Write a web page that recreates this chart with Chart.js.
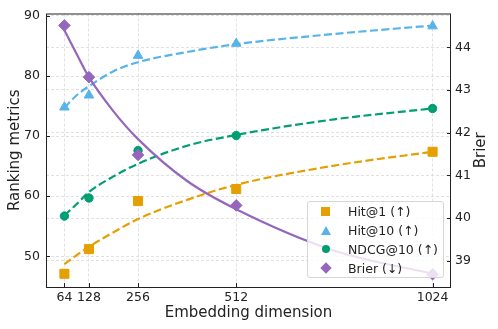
<!DOCTYPE html>
<html>
<head>
<meta charset="utf-8">
<script src="https://cdn.jsdelivr.net/npm/chart.js@4/dist/chart.umd.min.js"></script>
<style>
  body { margin: 0; background: #fff; }
  #wrap { position: relative; width: 498px; height: 329px; }
  #legend {
    position: absolute; left: 307px; top: 201px; width: 137px; height: 77px;
    box-sizing: border-box; border: 1px solid #d6d6d6; border-radius: 3px;
    background: rgba(255, 255, 255, 0.8);
    font: 12.5px "DejaVu Sans", sans-serif; color: #222;
  }
  .row { position: absolute; left: 0; height: 19px; line-height: 19px; }
  .row span.t { position: absolute; left: 40px; white-space: nowrap; }
  .mk { position: absolute; }
</style>
</head>
<body>
<div id="wrap">
  <canvas id="myChart" width="498" height="329"></canvas>
  <div id="legend"></div>
</div>
<script>
// measured points
const dims = [64, 128, 256, 512, 1024];
const hit1 = [47.1, 51.2, 59.2, 61.2, 67.4];
const hit10 = [74.8, 76.8, 83.4, 85.4, 88.3];
const ndcg10 = [56.7, 59.7, 67.6, 70.1, 74.6];
const brier = [44.51, 43.30, 41.48, 40.30, 38.69];

// fitted curves
const fitDims = [64, 96, 128, 192, 256, 384, 512, 768, 1024];
const hit1Fit = [48.7, 50.2, 51.6, 54.0, 56.2, 59.4, 61.9, 65.1, 67.4];
const hit10Fit = [74.7, 76.8, 78.3, 80.8, 82.3, 84.0, 85.3, 87.0, 88.4];
const ndcg10Fit = [56.8, 58.7, 60.7, 63.3, 65.4, 68.4, 70.2, 72.8, 74.6];
const brierFit = [44.40, 43.84, 43.30, 42.50, 41.85, 40.87, 40.21, 39.24, 38.70];

const xTicks = [64, 128, 256, 512, 1024];
const leftTicks = [50, 60, 70, 80, 90];
const rightTicks = [39, 40, 41, 42, 43, 44];

const labels = ['Hit@1 (↑)', 'Hit@10 (↑)', 'NDCG@10 (↑)', 'Brier (↓)'];
const colors = ['#E69F00', '#56B4E9', '#009E73', '#9467BD'];

const font = '"DejaVu Sans", sans-serif';
const pts = (xs, ys) => xs.map((x, i) => ({ x: x, y: ys[i] }));

const markerSet = (label, data, color, style, radius, axis, order) => ({
  label: label,
  data: pts(dims, data),
  yAxisID: axis,
  showLine: false,
  pointStyle: style,
  pointRadius: radius,
  pointBackgroundColor: color,
  pointBorderColor: color,
  pointBorderWidth: 1,
  order: order,
});

const curveSet = (data, color, axis, dashed, order) => ({
  data: pts(fitDims, data),
  yAxisID: axis,
  showLine: true,
  borderColor: color,
  borderWidth: 2.2,
  borderDash: dashed ? [8, 3.5] : [],
  cubicInterpolationMode: 'monotone',
  pointRadius: 0,
  fill: false,
  order: order,
});

const framePlugin = {
  id: 'frame',
  afterDraw(chart) {
    const { ctx, chartArea: a, scales } = chart;
    ctx.save();
    ctx.strokeStyle = '#222';
    ctx.lineWidth = 1;
    ctx.strokeRect(a.left + 0.5, a.top + 0.5, a.right - a.left - 1, a.bottom - a.top);
    ctx.beginPath();
    scales.x.ticks.forEach((t) => {
      const px = Math.round(scales.x.getPixelForValue(t.value)) + 0.5;
      ctx.moveTo(px, a.bottom);
      ctx.lineTo(px, a.bottom - 4);
    });
    scales.y.ticks.forEach((t) => {
      const py = Math.round(scales.y.getPixelForValue(t.value)) + 0.5;
      ctx.moveTo(a.left, py);
      ctx.lineTo(a.left + 4, py);
    });
    scales.y2.ticks.forEach((t) => {
      const py = Math.round(scales.y2.getPixelForValue(t.value)) + 0.5;
      ctx.moveTo(a.right, py);
      ctx.lineTo(a.right - 4, py);
    });
    ctx.stroke();
    // right axis title, reading bottom to top like the left one
    ctx.translate(481, (a.top + a.bottom) / 2);
    ctx.rotate(-Math.PI / 2);
    ctx.fillStyle = '#222';
    ctx.font = '15px ' + font;
    ctx.textAlign = 'center';
    ctx.textBaseline = 'middle';
    ctx.fillText('Brier', 0, 0);
    ctx.restore();
  },
};

const gridOpts = { color: '#d9d9d9', lineWidth: 0.8, drawTicks: false };
const borderOpts = { display: false, dash: [3, 2] };
const tickFont = { family: font, size: 12.5 };
const titleFont = { family: font, size: 15 };

const chart = new Chart('myChart', {
  type: 'scatter',
  data: {
    datasets: [
      markerSet(labels[0], hit1, colors[0], 'rect', 6.4, 'y', 4),
      markerSet(labels[1], hit10, colors[1], 'triangle', 5.5, 'y', 3),
      markerSet(labels[2], ndcg10, colors[2], 'circle', 4.2, 'y', 2),
      markerSet(labels[3], brier, colors[3], 'rectRot', 5.8, 'y2', 1),
      curveSet(hit1Fit, colors[0], 'y', true, 8),
      curveSet(hit10Fit, colors[1], 'y', true, 7),
      curveSet(ndcg10Fit, colors[2], 'y', true, 6),
      curveSet(brierFit, colors[3], 'y2', false, 5),
    ],
  },
  options: {
    responsive: false,
    animation: false,
    devicePixelRatio: 1,
    layout: { padding: { top: 11, left: 0, right: 0, bottom: 0 } },
    plugins: { legend: { display: false }, tooltip: { enabled: false } },
    scales: {
      x: {
        type: 'linear',
        min: 16,
        max: 1072,
        grid: gridOpts,
        border: borderOpts,
        afterBuildTicks: (s) => { s.ticks = xTicks.map((v) => ({ value: v })); },
        afterFit: (s) => { s.height = 42; },
        ticks: { font: tickFont, color: '#222', padding: 3, maxRotation: 0, autoSkip: false, callback: (v) => String(v) },
        title: { display: true, text: 'Embedding dimension', font: titleFont, color: '#222', padding: { top: 0, bottom: 7 } },
      },
      y: {
        position: 'left',
        min: 44.9,
        max: 90.4,
        grid: gridOpts,
        border: borderOpts,
        afterBuildTicks: (s) => { s.ticks = leftTicks.map((v) => ({ value: v })); },
        afterFit: (s) => { s.width = 46; },
        ticks: { font: tickFont, color: '#222', padding: 6, callback: (v) => String(v) },
        title: { display: true, text: 'Ranking metrics', font: titleFont, color: '#222', padding: { top: 6, bottom: 0 } },
      },
      y2: {
        position: 'right',
        min: 38.39,
        max: 44.79,
        grid: gridOpts,
        border: borderOpts,
        afterBuildTicks: (s) => { s.ticks = rightTicks.map((v) => ({ value: v })); },
        afterFit: (s) => { s.width = 47; },
        ticks: { font: tickFont, color: '#222', padding: 4, callback: (v) => String(v) },
      },
    },
  },
  plugins: [framePlugin],
});

// legend box drawn as html so it can sit inside the plot
const shapes = [
  (c) => `width:9px;height:9px;background:${c};left:13px;top:5px;`,
  (c) => `width:0;height:0;border-left:5px solid transparent;border-right:5px solid transparent;border-bottom:9px solid ${c};left:13px;top:5px;`,
  (c) => `width:8px;height:8px;border-radius:50%;background:${c};left:14px;top:5.5px;`,
  (c) => `width:8px;height:8px;background:${c};transform:rotate(45deg);left:13.5px;top:5.5px;`,
];
const legend = document.getElementById('legend');
labels.forEach((lab, i) => {
  const row = document.createElement('div');
  row.className = 'row';
  row.style.top = (i * 18.9) + 'px';
  row.innerHTML = `<div class="mk" style="${shapes[i](colors[i])}"></div><span class="t">${lab}</span>`;
  legend.appendChild(row);
});
</script>
</body>
</html>
